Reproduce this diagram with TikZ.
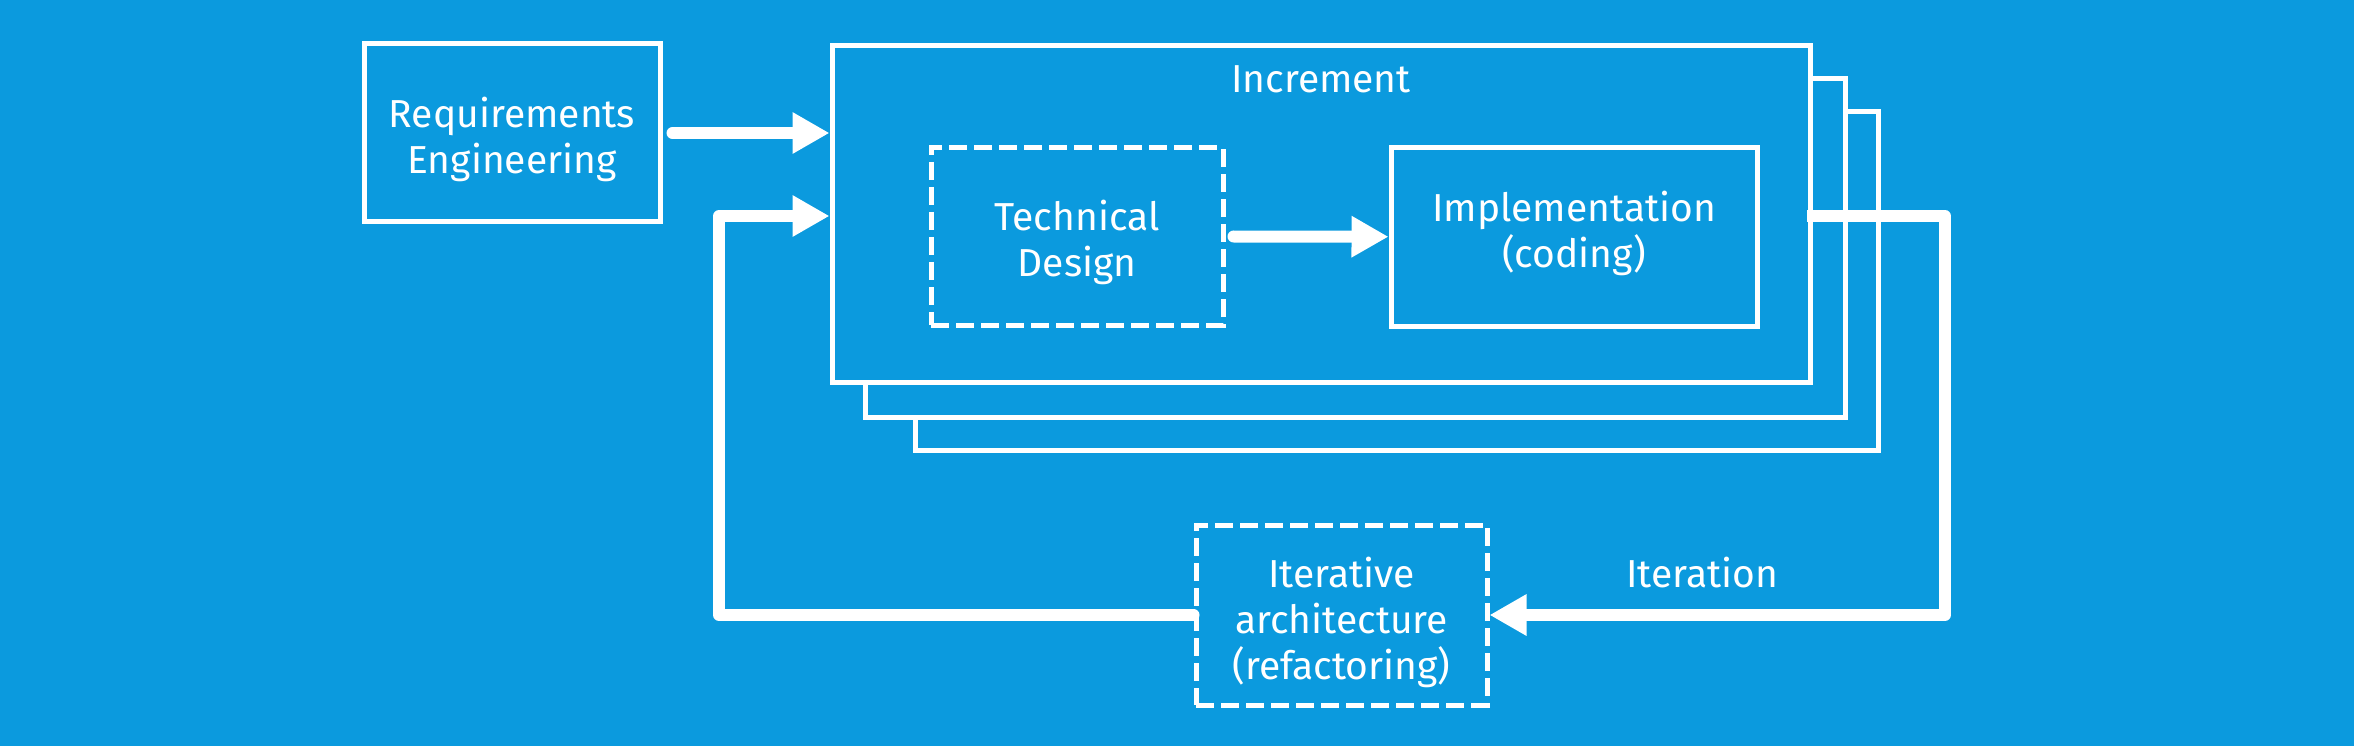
\documentclass[tikz,border=0pt]{standalone}
\usepackage{fontspec}
\setmainfont{Fira Sans}
\usetikzlibrary{arrows.meta}
\definecolor{bg}{RGB}{11,154,222}
\begin{document}
\begin{tikzpicture}[x=1pt,y=-1pt,
  txt/.style={text=white,align=center,font=\fontsize{39}{46}\selectfont,inner sep=0pt},
  box/.style={draw=white,line width=5pt,fill=bg,inner sep=0pt},
  dbox/.style={box,dash pattern=on 18pt off 7pt},
  stack/.style={draw=white,line width=5pt,fill=bg},
  conn/.style={draw=white,line width=12pt,line cap=round,line join=round},
  tip/.style={-{Triangle[length=37pt,width=39pt]}}]
\fill[bg] (0,0) rectangle (2354,746);
\useasboundingbox (0,0) rectangle (2354,746);
% stacked increments
\draw[stack] (915,112) rectangle (1878,450);
\draw[stack] (865,79) rectangle (1845,417);
\node[box,minimum width=978pt,minimum height=336pt] (inc) at (1321,214) {};
\node[txt,anchor=base] (inclabel) at (1321,93) {Increment};
% boxes
\node[box,minimum width=296pt,minimum height=178pt] (req) at (512,133) {};
\node[txt] (reqt) at (512,139) {Requirements\\Engineering};
\node[dbox,minimum width=292pt,minimum height=177pt] (td) at (1077,236.5) {};
\node[txt] (tdt) at (1077,242) {Technical\\Design};
\node[box,minimum width=366pt,minimum height=178pt] (impl) at (1574,237) {};
\node[txt] (implt) at (1574,233) {Implementation\\(coding)};
\node[dbox,minimum width=291pt,minimum height=180pt] (ia) at (1341.5,615) {};
\node[txt] (iat) at (1341.5,622) {Iterative\\architecture\\(refactoring)};
\node[txt,anchor=base] (itlabel) at (1702,587) {Iteration};
% coordinates for feedback loops
\coordinate (fbl) at (719,216);
\coordinate (fbr) at (1945,216);
\coordinate (rs) at (1807,216);
% connectors
\draw[conn,tip] ([xshift=10pt]req.east) -- (req.east -| inc.west);
\draw[conn,tip] ([xshift=8pt]td.east) -- (impl);
\draw[conn,tip] (ia.west) -| (fbl) -- (fbl -| inc.west);
\draw[conn,tip,line cap=butt] (rs) -- (fbr) |- (ia.east);
\end{tikzpicture}
\end{document}
